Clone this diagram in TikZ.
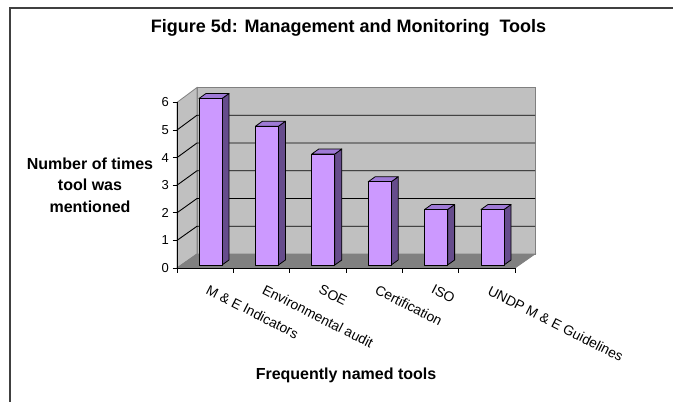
\documentclass[tikz,border=0pt]{standalone}
\usepackage{fontspec}
\setmainfont{Liberation Sans}
\definecolor{wallgray}{HTML}{C0C0C0}
\definecolor{floorgray}{HTML}{808080}
\definecolor{edgegray}{HTML}{808080}
\definecolor{framegray}{HTML}{404040}
\definecolor{barfront}{HTML}{CC99FF}
\definecolor{bartop}{HTML}{9F7AD6}
\definecolor{barside}{HTML}{664C8C}
\begin{document}
\begin{tikzpicture}[x=1pt,y=-1pt,
  wallst/.style={fill=wallgray,draw=edgegray,line width=0.8pt},
  floorst/.style={fill=floorgray,draw=edgegray,line width=0.8pt},
  gridst/.style={draw=black,line width=0.9pt},
  axisst/.style={draw=black,line width=0.9pt},
  frontst/.style={fill=barfront,draw=black,line width=0.8pt,line join=round},
  topst/.style={fill=bartop,draw=black,line width=0.8pt,line join=round},
  sidest/.style={fill=barside,draw=black,line width=0.8pt,line join=round},
  titlest/.style={font=\fontsize{18}{21}\selectfont\bfseries,inner sep=0pt},
  axtitlest/.style={font=\fontsize{16}{21.5}\selectfont\bfseries,inner sep=0pt,align=center},
  ticklabst/.style={font=\fontsize{13}{15}\selectfont,inner sep=0pt},
  catlabst/.style={font=\fontsize{13.8}{15}\selectfont,inner sep=0pt,anchor=north west,rotate=-27}
]
\useasboundingbox (0,0) rectangle (673,402);
% frame
\draw[framegray,line width=2pt] (10,402) -- (10,7.7) -- (673,7.7);
% title
\node[titlest,anchor=base] (title) at (348.5,32) {Figure 5d: Management and Monitoring\ \ Tools};
% walls and floor
\path[wallst] (197,87.5) rectangle (535,254);
\path[wallst] (177,102.4) -- (197,87.5) -- (197,254) -- (177,268) -- cycle;
\path[floorst] (177,268) -- (197,254) -- (535,254) -- (515,268) -- cycle;
% gridlines
\foreach \k in {1,...,5}{
  \draw[gridst] (177,268-27.6*\k) -- (197,254-27.75*\k) -- (535,254-27.75*\k);
}
% bars
\foreach \k/\v in {0/6,1/5,2/4,3/3,4/2,5/2}{
  \pgfmathsetmacro{\xl}{199+56.4*\k}
  \pgfmathsetmacro{\xr}{\xl+23}
  \pgfmathsetmacro{\yt}{265-27.75*\v}
  \path[sidest] (\xr,265) -- (\xr+7,260) -- (\xr+7,\yt-5) -- (\xr,\yt) -- cycle;
  \path[topst] (\xl,\yt) -- (\xl+7,\yt-5) -- (\xr+7,\yt-5) -- (\xr,\yt) -- cycle;
  \path[frontst] (\xl,265) rectangle (\xr,\yt);
}
% axes
\draw[axisst] (177,102.4) -- (177,268) -- (515,268);
\foreach \k in {0,...,6}{
  \draw[axisst] (172.5,268-27.6*\k) -- (177,268-27.6*\k);
  \node[ticklabst,anchor=east] (y\k) at (169,268-27.6*\k) {\k};
  \draw[axisst] (177+56.33*\k,268) -- (177+56.33*\k,272.5);
}
% category labels
\node[catlabst] (c1) at (209.6,284) {M \& E Indicators};
\node[catlabst] (c2) at (265.9,284) {Environmental audit};
\node[catlabst] (c3) at (322.2,284) {SOE};
\node[catlabst] (c4) at (378.6,284) {Certification};
\node[catlabst] (c5) at (434.9,284) {ISO};
\node[catlabst] (c6) at (491.2,285) {UNDP M \& E Guidelines};
% axis titles
\node[axtitlest] (xtitle) at (346,375) {Frequently named tools};
\node[axtitlest] (ytitle) at (90,185) {Number of times\\tool was\\mentioned};
\end{tikzpicture}
\end{document}
